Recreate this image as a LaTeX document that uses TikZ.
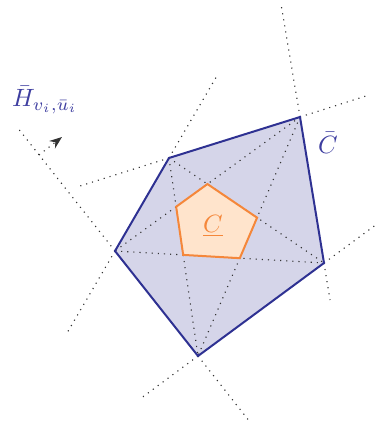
\documentclass[tikz,border=0pt]{standalone}
\usepackage{amsmath,amssymb}
\usepackage{xcolor}
\usepackage{tikz}
\usetikzlibrary{arrows.meta,calc}
\definecolor{hull}{HTML}{2E3192}
\definecolor{hullfill}{HTML}{D5D5E9}
\definecolor{hulltext}{HTML}{3E3EA0}
\definecolor{core}{HTML}{F5873A}
\definecolor{corefill}{HTML}{FFE4CC}
\tikzset{
  outerpoly/.style={draw=hull, line width=0.8pt},
  innerpoly/.style={draw=core, fill=corefill, line width=0.8pt},
  hplane/.style={dotted, line width=0.45pt, black!80},
  diag/.style={dotted, line width=0.45pt, black!80},
  >=Stealth,
}

\begin{document}
\begin{tikzpicture}[x=0.4pt,y=-0.4pt]
\useasboundingbox (0,0) rectangle (378,431);
% outer pentagon vertices
\coordinate (A) at (300,117);
\coordinate (B) at (169,158);
\coordinate (C) at (115,251);
\coordinate (D) at (198,356);
\coordinate (E) at (324,263);
% free ends of the extended edges
\coordinate (A1) at (281,4);
\coordinate (A2) at (366,96);
\coordinate (B1) at (80,186);
\coordinate (B2) at (218,74);
\coordinate (C1) at (17,127);
\coordinate (C2) at (67,333);
\coordinate (D1) at (140,399);
\coordinate (D2) at (250,422);
\coordinate (E1) at (377,224);
\coordinate (E2) at (330,300);
% inner pentagon = diagonal crossings
\coordinate (P1) at (intersection of A--C and B--E);
\coordinate (P2) at (intersection of A--C and B--D);
\coordinate (P3) at (intersection of B--D and C--E);
\coordinate (P4) at (intersection of C--E and A--D);
\coordinate (P5) at (intersection of A--D and B--E);
\fill[hullfill] (A) -- (B) -- (C) -- (D) -- (E) -- cycle;
% diagonals
\draw[diag] (A) -- (C);
\draw[diag] (A) -- (D);
\draw[diag] (B) -- (D);
\draw[diag] (B) -- (E);
\draw[diag] (C) -- (E);
% hyperplanes through the edges
\draw[hplane] (A) -- (A1);
\draw[hplane] (A) -- (A2);
\draw[hplane] (B) -- (B1);
\draw[hplane] (B) -- (B2);
\draw[hplane] (C) -- (C1);
\draw[hplane] (C) -- (C2);
\draw[hplane] (D) -- (D1);
\draw[hplane] (D) -- (D2);
\draw[hplane] (E) -- (E1);
\draw[hplane] (E) -- (E2);
% normal
\coordinate (n0) at (39,155);
\coordinate (n1) at (62,137);
\draw[hplane,->] (n0) -- (n1);
\draw[innerpoly] (P1) -- (P2) -- (P3) -- (P4) -- (P5) -- cycle;
\draw[outerpoly] (A) -- (B) -- (C) -- (D) -- (E) -- cycle;
\node[text=core] (Cin) at (213,226) {$\underline{C}$};
\node[text=hulltext] (Cbar) at (328,143) {$\bar{C}$};
\node[text=hulltext] (Hlab) at (45,100) {$\bar{H}_{v_i,\bar{u}_i}$};
\end{tikzpicture}
\end{document}
